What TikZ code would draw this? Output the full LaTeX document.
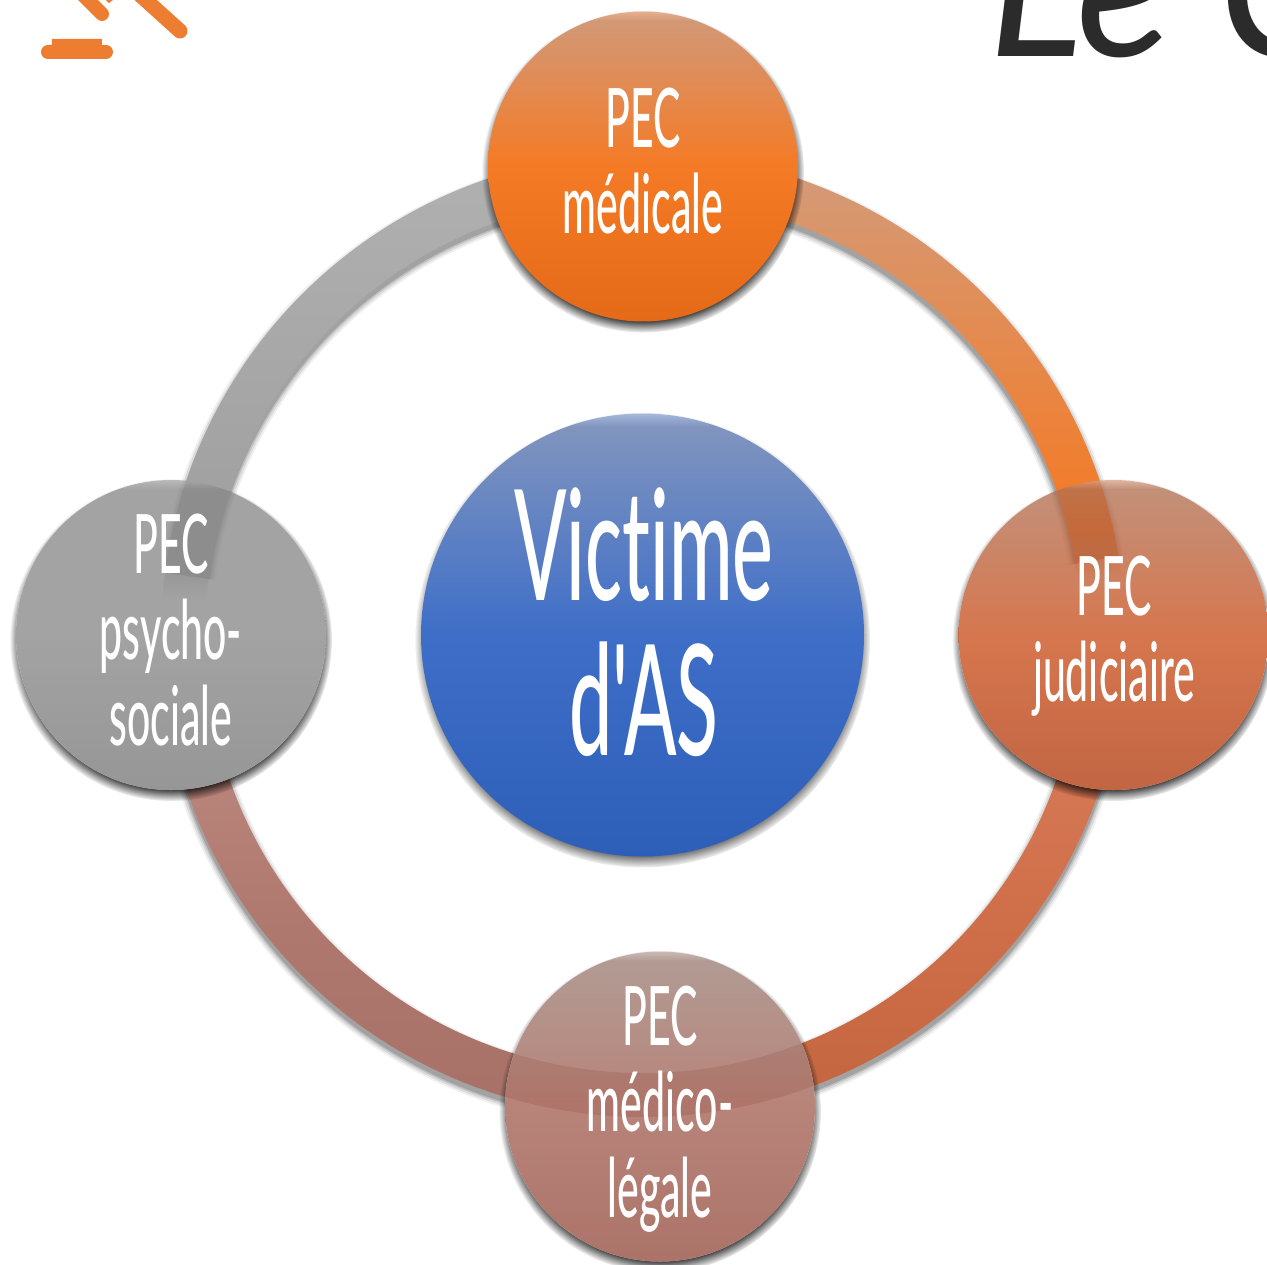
\documentclass[tikz,border=0pt]{standalone}
\usepackage{fontspec}
\usetikzlibrary{fadings}
\newfontfamily\handfont[FakeStretch=0.5,Ligatures=NoCommon]{Lato Medium}
\newfontfamily\signfont{Lato Italic}
\definecolor{inkdark}{HTML}{2B2B2B}
\definecolor{gavel}{HTML}{ED7D31}
\definecolor{rosearc}{RGB}{168,113,104}
% circles: stops for bottom / middle / top / highlight
\newcommand{\disc}[5]{\pgfdeclareverticalshading{#1}{100bp}{color(0bp)=(#2);color(25bp)=(#2);color(50bp)=(#3);color(73.5bp)=(#4);color(75bp)=(#5);color(100bp)=(#5)}}
\disc{dTop}{rgb,255:red,229;green,106;blue,24}{rgb,255:red,245;green,122;blue,37}{rgb,255:red,210;green,152;blue,118}{rgb,255:red,232;green,176;blue,144}
\disc{dBlue}{rgb,255:red,46;green,95;blue,184}{rgb,255:red,62;green,110;blue,200}{rgb,255:red,128;green,148;blue,190}{rgb,255:red,165;green,185;blue,220}
\disc{dRight}{rgb,255:red,176;green,55;blue,10}{rgb,255:red,202;green,78;blue,26}{rgb,255:red,177;green,111;blue,81}{rgb,255:red,215;green,160;blue,135}
\disc{dBottom}{rgb,255:red,147;green,74;blue,60}{rgb,255:red,163;green,95;blue,82}{rgb,255:red,155;green,125;blue,116}{rgb,255:red,190;green,165;blue,158}
\disc{dLeft}{rgb,255:red,119;green,119;blue,119}{rgb,255:red,136;green,136;blue,136}{rgb,255:red,136;green,136;blue,136}{rgb,255:red,165;green,165;blue,165}
% arcs
\newcommand{\arcsh}[5]{\pgfdeclareverticalshading{#1}{100bp}{color(0bp)=(#2);color(25bp)=(#2);color(#4bp)=(#3);color(75bp)=(#5);color(100bp)=(#5)}}
\arcsh{aOrange}{rgb,255:red,235;green,110;blue,30}{rgb,255:red,244;green,122;blue,37}{34}{rgb,255:red,212;green,154;blue,120}
\arcsh{aCopper}{rgb,255:red,196;green,102;blue,63}{rgb,255:red,208;green,112;blue,75}{50}{rgb,255:red,216;green,123;blue,88}
\arcsh{aRose}{rgb,255:red,168;green,113;blue,104}{rgb,255:red,175;green,120;blue,110}{50}{rgb,255:red,186;green,134;blue,124}
\arcsh{aGrey}{rgb,255:red,156;green,156;blue,156}{rgb,255:red,166;green,166;blue,166}{50}{rgb,255:red,176;green,176;blue,176}
% fadings: the path's box covers the central 25bp..75bp of the 100bp square
\pgfdeclareradialshading{shadowradial}{\pgfpoint{0bp}{0bp}}{color(0bp)=(white);color(23bp)=(white);color(25bp)=(black);color(100bp)=(black)}
\pgfdeclarefading{shadowfade}{\pgfuseshading{shadowradial}}
\pgfdeclareverticalshading{endv}{100bp}{color(0bp)=(black);color(26.5bp)=(black);color(32.5bp)=(white);color(100bp)=(white)}
\pgfdeclarefading{endfade}{\pgfuseshading{endv}}
\newcommand{\sector}[2]{(#1:482) arc[start angle=#1,end angle=#2,radius=482] -- (#2:438) arc[start angle=#2,end angle=#1,radius=438] -- cycle}
\newcommand{\arcshadow}[2]{\foreach \w/\o in {56/.06,52/.09,48/.12,45/.15}{\draw[black,opacity=\o,line width=.5pt*\w,shift={(0,-5)}] (#1:460) arc[start angle=#1,end angle=#2,radius=460];}}
\newcommand{\discshadow}[3]{\fill[black,opacity=.8,path fading=shadowfade] (#1,#2-5) circle[radius=#3+6];}
\tikzset{
  discnode/.style={circle,inner sep=0pt,minimum size=310*.5pt,draw=none},
  label/.style={text=white,align=center,inner sep=0pt,font=\handfont\fontsize{41}{43}\selectfont},
}
\begin{document}
\begin{tikzpicture}[x=.5pt,y=.5pt]
\useasboundingbox (-643,-629) rectangle (624,635);
\fill[white] (-643,-629) rectangle (624,635);
% arcs that stop at a disc's edge
\arcshadow{-10}{-72}
\shade[shading=aCopper] \sector{-10}{-72};
\arcshadow{195}{262}
\shade[shading=aRose] \sector{195}{262};
% knockouts, with the discs' shadows
\discshadow{470.5}{0}{155}
\fill[white] (470.5,0) circle[radius=155];
\discshadow{17}{-471.5}{155}
\fill[white] (17,-471.5) circle[radius=155];
\discshadow{-472}{0}{155}
\fill[white] (-472,0) circle[radius=155];
% rose arc seen faintly through the bottom disc
\begin{scope}
\clip (17,-471.5) circle[radius=155];
\fill[rosearc,opacity=.45] \sector{235}{296};
\end{scope}
% arc top -> left
\arcshadow{106}{172}
\shade[shading=aGrey,path fading=endfade] \sector{106}{177};
% arc top -> right
\arcshadow{74}{10}
\shade[shading=aOrange,path fading=endfade] \sector{74}{6};
% top & centre shadows
\discshadow{0}{468.5}{155}
\discshadow{-.5}{0}{221.5}
% discs
\node[discnode,shading=dRight,fill opacity=.77] (judiciaire) at (470.5,0) {};
\node[discnode,shading=dBottom,fill opacity=.77] (legale) at (17,-471.5) {};
\node[discnode,shading=dLeft,fill opacity=.77] (psycho) at (-472,0) {};
\node[discnode,shading=dTop] (medicale) at (0,468.5) {};
\node[discnode,shading=dBlue,minimum size=443*.5pt] (victime) at (-.5,0) {};
% labels
\node[label] (tTop) at (0,474) {PEC\\médicale};
\node[label] (tRight) at (471,-1) {PEC\\judiciaire};
\node[label] (tBottom) at (17,-474) {PEC\\médico-\\légale};
\node[label] (tLeft) at (-472,5) {PEC\\psycho-\\sociale};
\node[label,font=\handfont\fontsize{77}{77.5}\selectfont] (tCentre) at (1,13) {Victime\\d'AS};
% gavel
\fill[gavel] (-602,583) to[out=90,in=180] (-595,590) -- (-591,590) -- (-591,596) -- (-541,596) -- (-541,590) -- (-537,590) to[out=0,in=90] (-530,583) to[out=-90,in=0] (-537,576) -- (-595,576) to[out=180,in=-90] cycle;
\draw[gavel,line width=7pt,line cap=round] (-560,640) -- (-541,621);
\draw[gavel,line width=7.5pt,line cap=round] (-505,642) -- (-463,604);
\fill[gavel] (-537,635) -- (-530,635) -- (-534,632) -- cycle;
% title fragment
\node[anchor=base west,inner sep=0pt,text=inkdark,font=\signfont\fontsize{100}{100}\selectfont] (title) at (345,578) {Le C};
\end{tikzpicture}
\end{document}
